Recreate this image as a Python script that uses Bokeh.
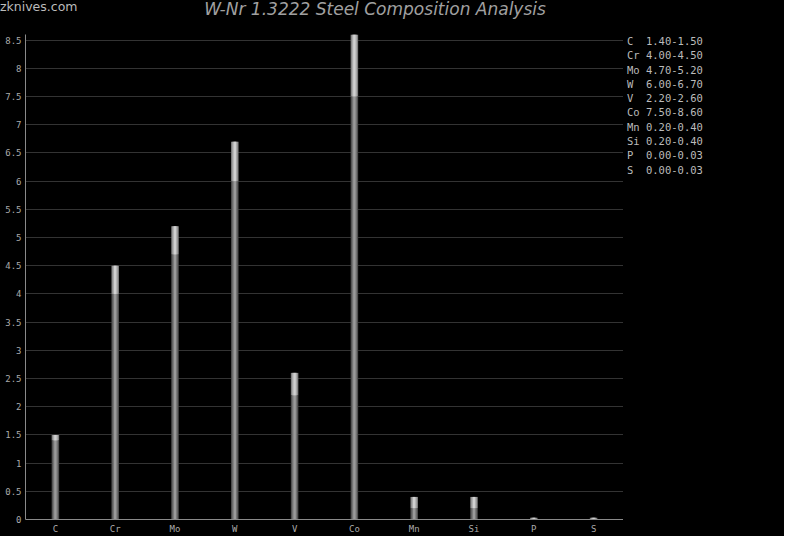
from bokeh.plotting import figure
from bokeh.models import ColumnDataSource, FixedTicker, Div
from bokeh.layouts import column, row
from bokeh.embed import file_html
from bokeh.resources import INLINE

# ---- data ----
elements = ["C", "Cr", "Mo", "W", "V", "Co", "Mn", "Si", "P", "S"]
min_vals = [1.40, 4.00, 4.70, 6.00, 2.20, 7.50, 0.20, 0.20, 0.00, 0.00]
max_vals = [1.50, 4.50, 5.20, 6.70, 2.60, 8.60, 0.40, 0.40, 0.03, 0.03]
y_ticks = [0, 0.5, 1, 1.5, 2, 2.5, 3, 3.5, 4, 4.5, 5, 5.5, 6, 6.5, 7, 7.5, 8, 8.5]
y_tick_labels = ["0", "0.5", "1", "1.5", "2", "2.5", "3", "3.5", "4", "4.5",
                 "5", "5.5", "6", "6.5", "7", "7.5", "8", "8.5"]
title_text = "W-Nr 1.3222 Steel Composition Analysis"
site_text = "zknives.com"

W = 784
HEADER_H = 34
PLOT_H = 502
PLOT_W = 623
SIDE_W = W - PLOT_W

src = ColumnDataSource(dict(el=elements, lo=min_vals, hi=max_vals,
                            zero=[0] * len(elements)))

p = figure(x_range=elements, y_range=(0, 8.6), width=PLOT_W, height=PLOT_H,
           output_backend="svg", toolbar_location=None,
           min_border_left=25, min_border_right=0, min_border_top=0,
           min_border_bottom=0)
p.background_fill_color = "black"
p.border_fill_color = "black"
p.outline_line_color = None

# lower (minimum) part, cylinder-like shading
for w, c in [(0.125, "#505050"), (0.085, "#747474"), (0.04, "#9a9a9a")]:
    p.vbar(x="el", bottom="zero", top="lo", width=w, source=src,
           fill_color=c, line_color=None)
# upper (range) part
for w, c in [(0.125, "#808080"), (0.085, "#aaaaaa"), (0.04, "#d0d0d0")]:
    p.vbar(x="el", bottom="lo", top="hi", width=w, source=src,
           fill_color=c, line_color=None)

p.xgrid.grid_line_color = None
p.ygrid.grid_line_color = "#333333"
p.ygrid.ticker = FixedTicker(ticks=y_ticks)

p.yaxis.ticker = FixedTicker(ticks=y_ticks)
p.yaxis.major_label_overrides = {t: l for t, l in zip(y_ticks, y_tick_labels)}
for ax in (p.xaxis[0], p.yaxis[0]):
    ax.axis_line_color = "#8a8a8a"
    ax.major_tick_line_color = None
    ax.minor_tick_line_color = None
    ax.major_tick_out = 0
    ax.major_tick_in = 0
    ax.minor_tick_out = 0
    ax.major_label_text_color = "#aaaaaa"
    ax.major_label_text_font = "DejaVu Sans Mono"
    ax.major_label_text_font_size = "9px"
    ax.major_label_standoff = 4

# right-hand range list
rows_html = "".join(
    '<div style="height:14.3px;line-height:14.3px;">%s</div>'
    % f"{e:<2} {lo:.2f}-{hi:.2f}".replace(" ", "&nbsp;")
    for e, lo, hi in zip(elements, min_vals, max_vals))
side = Div(
    text=('<div style="padding-left:4px;margin-top:0px;white-space:pre;'
          'font-family:\'DejaVu Sans Mono\';font-size:10.5px;color:#bbbbbb;">'
          '%s</div>') % rows_html,
    width=SIDE_W, height=PLOT_H,
    styles={"background-color": "black", "margin": "0px"})

header = Div(
    text=(
        '<div style="position:relative;width:%dpx;height:%dpx;">'
        '<span style="position:absolute;left:0px;top:0px;line-height:14px;'
        'font-family:\'DejaVu Sans\';font-size:12.5px;color:#bbbbbb;">%s</span>'
        '<span style="position:absolute;left:0px;top:-1px;width:750px;'
        'text-align:center;line-height:20px;font-family:\'DejaVu Sans\';'
        'font-style:italic;font-size:17px;color:#a0a0a0;">%s</span></div>'
    ) % (W, HEADER_H, site_text, title_text),
    width=W, height=HEADER_H,
    styles={"background-color": "black", "margin": "0px"})

layout = column(header, row(p, side, spacing=0), spacing=0,
                styles={"background-color": "black"})

open("out.html", "w").write(file_html(layout, INLINE))
